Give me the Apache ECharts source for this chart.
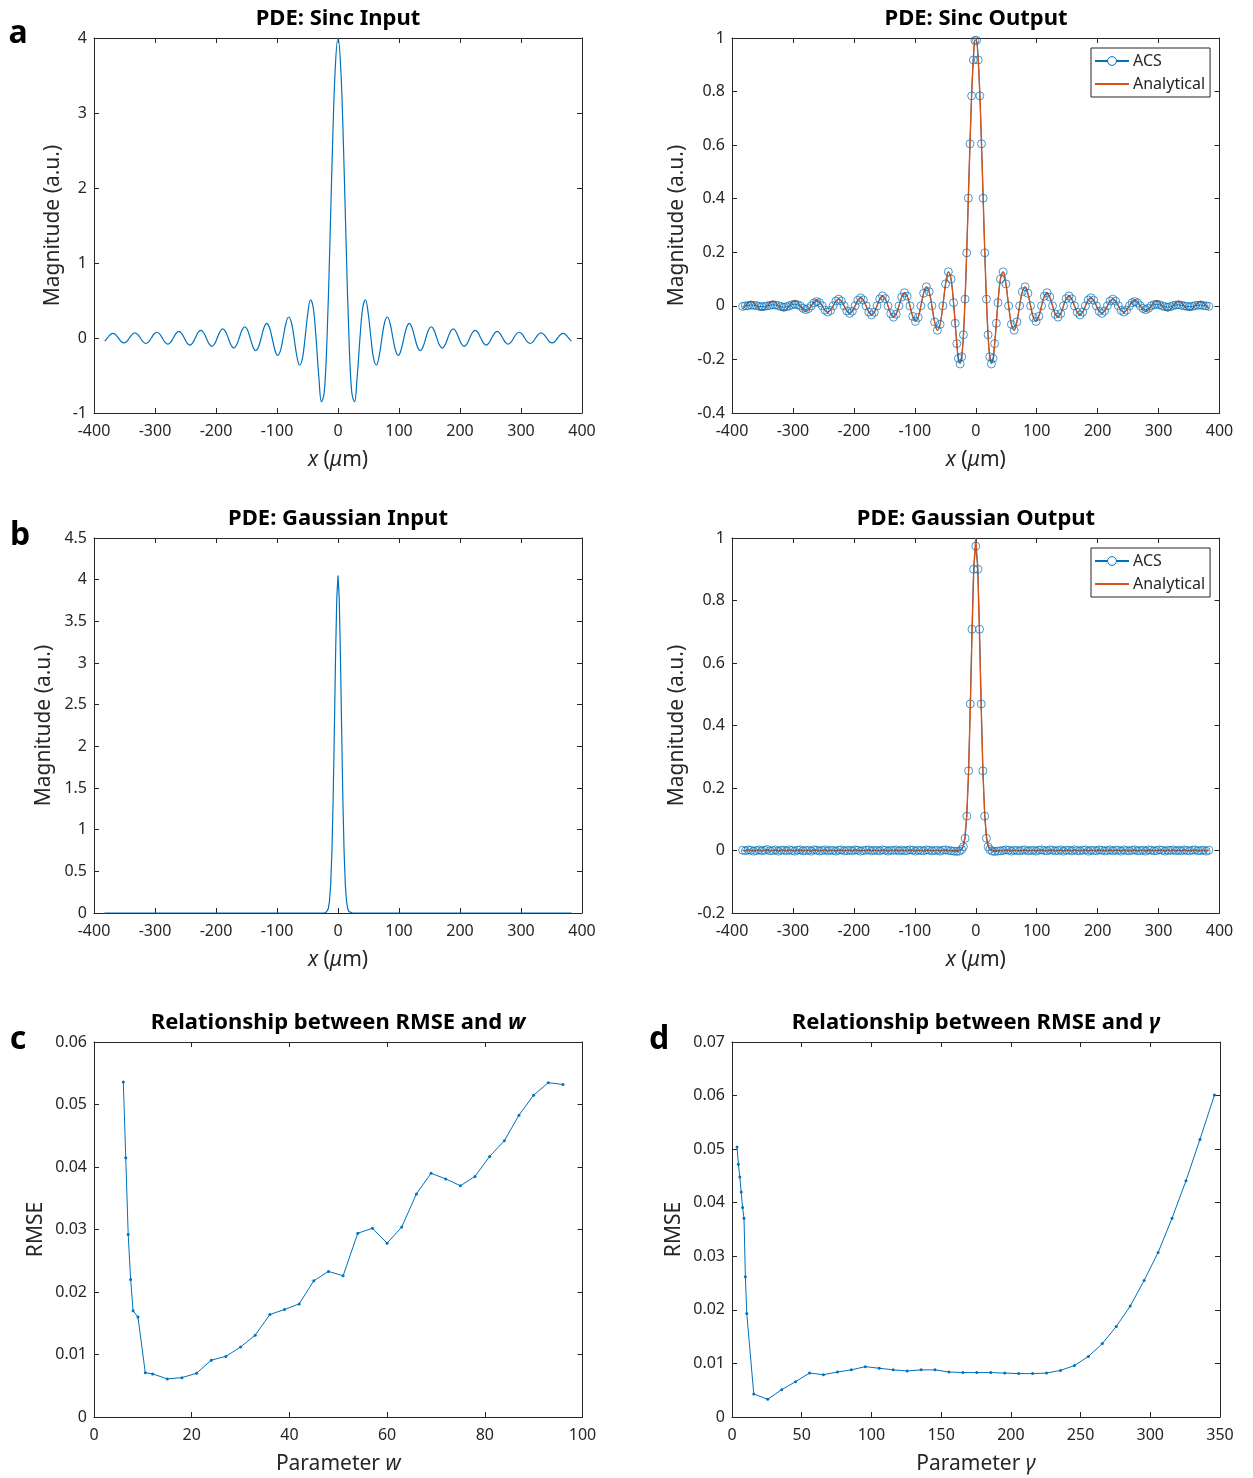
<!DOCTYPE html>
<html>
<head>
<meta charset="utf-8">
<script src="https://cdn.jsdelivr.net/npm/echarts@6/dist/echarts.min.js"></script>
<style>html,body{margin:0;padding:0;background:#fff}#chart{width:1253px;height:1478px}</style>
</head>
<body>
<div id="chart"></div>
<script>
// ---------------- DATA ----------------
// Panel a: sinc input / output, sampled every 4.5 um
const sincX = [-382.5,-378,-373.5,-369,-364.5,-360,-355.5,-351,-346.5,-342,-337.5,-333,-328.5,-324,-319.5,-315,-310.5,-306,-301.5,-297,-292.5,-288,-283.5,-279,-274.5,-270,-265.5,-261,-256.5,-252,-247.5,-243,-238.5,-234,-229.5,-225,-220.5,-216,-211.5,-207,-202.5,-198,-193.5,-189,-184.5,-180,-175.5,-171,-166.5,-162,-157.5,-153,-148.5,-144,-139.5,-135,-130.5,-126,-121.5,-117,-112.5,-108,-103.5,-99,-94.5,-90,-85.5,-81,-76.5,-72,-67.5,-63,-58.5,-54,-49.5,-45,-40.5,-36,-31.5,-27,-22.5,-18,-13.5,-9,-4.5,0,4.5,9,13.5,18,22.5,27,31.5,36,40.5,45,49.5,54,58.5,63,67.5,72,76.5,81,85.5,90,94.5,99,103.5,108,112.5,117,121.5,126,130.5,135,139.5,144,148.5,153,157.5,162,166.5,171,175.5,180,184.5,189,193.5,198,202.5,207,211.5,216,220.5,225,229.5,234,238.5,243,247.5,252,256.5,261,265.5,270,274.5,279,283.5,288,292.5,297,301.5,306,310.5,315,319.5,324,328.5,333,337.5,342,346.5,351,355.5,360,364.5,369,373.5,378,382.5];

const sincInput = [-0.042,0,0.043,0.062,0.044,0,-0.046,-0.065,-0.047,0,0.048,0.069,0.049,0,-0.051,-0.073,-0.052,0,0.054,0.077,0.055,0,-0.057,-0.082,-0.059,0,0.061,0.088,0.063,0,-0.065,-0.094,-0.068,0,0.071,0.102,0.073,0,-0.077,-0.111,-0.080,0,0.084,0.121,0.088,0,-0.092,-0.134,-0.097,0,0.103,0.150,0.109,0,-0.116,-0.170,-0.124,0,0.133,0.196,0.144,0,-0.157,-0.232,-0.171,0,0.19,0.28,0.21,0,-0.24,-0.36,-0.28,0,0.33,0.51,0.40,0,-0.51,-0.85,-0.72,0,1.20,2.55,3.60,
4.0,
3.60,2.55,1.20,0,-0.72,-0.85,-0.51,0,0.40,0.51,0.33,0,-0.28,-0.36,-0.24,0,0.21,0.28,0.19,0,-0.171,-0.232,-0.157,0,0.144,0.196,0.133,0,-0.124,-0.170,-0.116,0,0.109,0.150,0.103,0,-0.097,-0.134,-0.092,0,0.088,0.121,0.084,0,-0.080,-0.111,-0.077,0,0.073,0.102,0.071,0,-0.068,-0.094,-0.065,0,0.063,0.088,0.061,0,-0.059,-0.082,-0.057,0,0.055,0.077,0.054,0,-0.052,-0.073,-0.051,0,0.049,0.069,0.048,0,-0.047,-0.065,-0.046,0,0.044,0.062,0.043,0,-0.042];

const sincAnalytical = [-0.011,0,0.011,0.016,0.011,0,-0.011,-0.016,-0.012,0,0.012,0.017,0.012,0,-0.013,-0.018,-0.013,0,0.013,0.019,0.014,0,-0.014,-0.021,-0.015,0,0.015,0.022,0.016,0,-0.016,-0.024,-0.017,0,0.018,0.025,0.018,0,-0.019,-0.028,-0.020,0,0.021,0.030,0.022,0,-0.023,-0.034,-0.024,0,0.026,0.037,0.027,0,-0.029,-0.042,-0.031,0,0.033,0.049,0.036,0,-0.039,-0.058,-0.043,0,0.047,0.071,0.053,0,-0.060,-0.091,-0.069,0,0.082,0.127,0.100,0,-0.129,-0.212,-0.180,0,0.300,0.637,0.900,
1.0,
0.900,0.637,0.300,0,-0.180,-0.212,-0.129,0,0.100,0.127,0.082,0,-0.069,-0.091,-0.060,0,0.053,0.071,0.047,0,-0.043,-0.058,-0.039,0,0.036,0.049,0.033,0,-0.031,-0.042,-0.029,0,0.027,0.037,0.026,0,-0.024,-0.034,-0.023,0,0.022,0.030,0.021,0,-0.020,-0.028,-0.019,0,0.018,0.025,0.018,0,-0.017,-0.024,-0.016,0,0.016,0.022,0.015,0,-0.015,-0.021,-0.014,0,0.014,0.019,0.013,0,-0.013,-0.018,-0.013,0,0.012,0.017,0.012,0,-0.012,-0.016,-0.011,0,0.011,0.016,0.011,0,-0.011];

// ACS samples for the sinc output (denser near the main lobe)
const sincAcsX = [-382.5,-378,-373.5,-369,-364.5,-360,-355.5,-351,-346.5,-342,-337.5,-333,-328.5,-324,-319.5,-315,-310.5,-306,-301.5,-297,-292.5,-288,-283.5,-279,-274.5,-270,-265.5,-261,-256.5,-252,-247.5,-243,-238.5,-234,-229.5,-225,-220.5,-216,-211.5,-207,-202.5,-198,-193.5,-189,-184.5,-180,-175.5,-171,-166.5,-162,-157.5,-153,-148.5,-144,-139.5,-135,-130.5,-126,-121.5,-117,-112.5,-108,-103.5,-99,-94.5,-90,-85.5,-81,-76.5,-72,-67.5,-63,-58.5,-54,-49.5,-45,-40.5,
-36.45,-33.75,-31.05,-28.35,-25.65,-22.95,-20.25,-17.55,-14.85,-12.15,-9.45,-6.75,-4.05,-1.35,1.35,4.05,6.75,9.45,12.15,14.85,17.55,20.25,22.95,25.65,28.35,31.05,33.75,36.45,
40.5,45,49.5,54,58.5,63,67.5,72,76.5,81,85.5,90,94.5,99,103.5,108,112.5,117,121.5,126,130.5,135,139.5,144,148.5,153,157.5,162,166.5,171,175.5,180,184.5,189,193.5,198,202.5,207,211.5,216,220.5,225,229.5,234,238.5,243,247.5,252,256.5,261,265.5,270,274.5,279,283.5,288,292.5,297,301.5,306,310.5,315,319.5,324,328.5,333,337.5,342,346.5,351,355.5,360,364.5,369,373.5,378,382.5];

const sincAcsY = [-0.002,0,0.001,0.003,0.002,0.001,-0.002,-0.003,-0.002,0,0.002,0.004,0.003,0.001,-0.003,-0.005,-0.003,0,0.004,0.006,0.004,0,-0.009,-0.014,-0.010,0,0.011,0.016,0.012,0,-0.016,-0.023,-0.017,0,0.018,0.025,0.018,0,-0.019,-0.028,-0.020,0,0.021,0.030,0.022,0,-0.023,-0.034,-0.024,0,0.026,0.037,0.027,0,-0.029,-0.042,-0.031,0,0.033,0.049,0.036,0,-0.039,-0.058,-0.043,0,0.047,0.071,0.053,0,-0.060,-0.091,-0.069,0,0.082,0.127,0.100,
0.012,-0.065,-0.141,-0.196,-0.217,-0.190,-0.108,0.025,0.198,0.402,0.605,0.784,0.918,0.991,0.991,0.918,0.784,0.605,0.402,0.198,0.025,-0.108,-0.190,-0.217,-0.196,-0.141,-0.065,0.012,
0.100,0.127,0.082,0,-0.069,-0.091,-0.060,0,0.053,0.071,0.047,0,-0.043,-0.058,-0.039,0,0.036,0.049,0.033,0,-0.031,-0.042,-0.029,0,0.027,0.037,0.026,0,-0.024,-0.034,-0.023,0,0.022,0.030,0.021,0,-0.020,-0.028,-0.019,0,0.018,0.025,0.018,0,-0.017,-0.023,-0.016,0,0.012,0.016,0.011,0,-0.010,-0.014,-0.009,0,0.004,0.006,0.004,0,-0.003,-0.005,-0.003,0.001,0.003,0.004,0.002,0,-0.002,-0.003,-0.002,0.001,0.002,0.003,0.001,0,-0.002];

// Panel b: Gaussian input / output
const gaussInX = [-383,-24,-20,-18,-16,-14,-12,-10,-8,-6,-4,-2,0,2,4,6,8,10,12,14,16,18,20,24,383];
const gaussInY = [0,0,0.004,0.016,0.05,0.14,0.34,0.73,1.35,2.18,3.08,3.78,4.05,3.78,3.08,2.18,1.35,0.73,0.34,0.14,0.05,0.016,0.004,0,0];

const gaussAnX = [-382.5,-30,-27,-24,-21,-18,-15,-12,-9,-6,-3,0,3,6,9,12,15,18,21,24,27,30,382.5];
const gaussAnY = [0,0,0.001,0.003,0.013,0.040,0.108,0.240,0.448,0.700,0.915,1,0.915,0.700,0.448,0.240,0.108,0.040,0.013,0.003,0.001,0,0];

const gaussAcsX = [-382.5,-378,-373.5,-369,-364.5,-360,-355.5,-351,-346.5,-342,-337.5,-333,-328.5,-324,-319.5,-315,-310.5,-306,-301.5,-297,-292.5,-288,-283.5,-279,-274.5,-270,-265.5,-261,-256.5,-252,-247.5,-243,-238.5,-234,-229.5,-225,-220.5,-216,-211.5,-207,-202.5,-198,-193.5,-189,-184.5,-180,-175.5,-171,-166.5,-162,-157.5,-153,-148.5,-144,-139.5,-135,-130.5,-126,-121.5,-117,-112.5,-108,-103.5,-99,-94.5,-90,-85.5,-81,-76.5,-72,-67.5,-63,-58.5,-54,-49.5,-45,-40.5,-36,-31.5,-27,
-23.1,-20.3,-17.5,-14.6,-11.7,-9,-6.2,-3.5,0,3.5,6.2,9,11.7,14.6,17.5,20.3,23.1,
27,31.5,36,40.5,45,49.5,54,58.5,63,67.5,72,76.5,81,85.5,90,94.5,99,103.5,108,112.5,117,121.5,126,130.5,135,139.5,144,148.5,153,157.5,162,166.5,171,175.5,180,184.5,189,193.5,198,202.5,207,211.5,216,220.5,225,229.5,234,238.5,243,247.5,252,256.5,261,265.5,270,274.5,279,283.5,288,292.5,297,301.5,306,310.5,315,319.5,324,328.5,333,337.5,342,346.5,351,355.5,360,364.5,369,373.5,378,382.5];

const gaussAcsY = [0.001,-0.001,0.002,0.001,-0.002,0,0.002,-0.001,0.001,0.003,
-0.001,0,0.002,-0.002,0.001,0.001,-0.001,0.002,0,-0.002,
0.001,0.002,-0.001,0,0.001,-0.002,0.002,0.001,-0.001,0,
0.002,-0.001,0.001,0,-0.002,0.001,0.002,-0.001,0,0.001,
-0.001,0.002,0.001,-0.002,0,0.001,0.002,-0.001,0.001,0,
-0.001,0.002,0.001,-0.002,0.001,0,0.002,-0.001,0.001,-0.001,
0,0.002,0.001,-0.002,0.001,0,-0.001,0.002,0.001,-0.001,
0,0.001,-0.002,0.001,0.002,0,-0.001,-0.002,-0.003,-0.002,
0.003,0.012,0.039,0.110,0.255,0.469,0.708,0.900,0.974,0.900,0.708,0.469,0.255,0.110,0.039,0.012,0.003,
-0.002,-0.003,-0.002,-0.001,0,0.002,0.001,-0.002,0.001,0,
-0.001,0.001,0.002,-0.001,0,0.001,-0.002,0.001,0.002,0,
-0.001,0.002,0.001,-0.001,0,0.002,-0.002,0.001,0.001,-0.001,
0.002,0,-0.001,0.001,0.002,-0.002,0.001,0,-0.001,0.002,
0.001,-0.001,0,0.002,-0.001,0.001,0.001,-0.002,0.002,0,
-0.001,0.001,0.002,-0.001,0,0.001,-0.002,0.002,0.001,-0.001,
0,0.002,0.001,-0.002,0.001,0,0.002,-0.001,0.001,-0.001,
0.002,0,-0.001,0.001,0.002,-0.001,0,0.001,-0.002,0.001];

// Panel c: RMSE vs w
const wValues = [6,6.5,7,7.5,8,9,10.5,12,15,18,21,24,27,30,33,36,39,42,45,48,51,54,57,60,63,66,69,72,75,78,81,84,87,90,93,96];
const rmseW = [0.0536,0.0415,0.0292,0.0220,0.0170,0.0160,0.0071,0.0069,0.0061,0.0063,0.0070,0.0091,0.0097,0.0112,0.0131,0.0164,0.0172,0.0181,0.0218,0.0233,0.0226,0.0294,0.0302,0.0278,0.0304,0.0357,0.0390,0.0381,0.0370,0.0385,0.0417,0.0442,0.0483,0.0515,0.0535,0.0532];

// Panel d: RMSE vs gamma
const gammaValues = [3.6,4.6,5.6,6.6,7.6,8.6,9.6,10.6,15.6,25.6,35.6,45.6,55.6,65.6,75.6,85.6,95.6,105.6,115.6,125.6,135.6,145.6,155.6,165.6,175.6,185.6,195.6,205.6,215.6,225.6,235.6,245.6,255.6,265.6,275.6,285.6,295.6,305.6,315.6,325.6,335.6,346];
const rmseGamma = [0.0504,0.0472,0.0448,0.0420,0.0391,0.0371,0.0262,0.0193,0.0043,0.0033,0.0051,0.0066,0.0082,0.0079,0.0084,0.0088,0.0094,0.0091,0.0088,0.0086,0.0088,0.0088,0.0084,0.0083,0.0083,0.0083,0.0082,0.0081,0.0081,0.0082,0.0087,0.0096,0.0113,0.0137,0.0169,0.0207,0.0255,0.0307,0.0371,0.0441,0.0518,0.0601];

// Tick ranges
const xTicksPDE = {min:-400, max:400, interval:100};
const yTicksSincIn = {min:-1, max:4, interval:1};
const yTicksSincOut = {min:-0.4, max:1, interval:0.2};
const yTicksGaussIn = {min:0, max:4.5, interval:0.5};
const yTicksGaussOut = {min:-0.2, max:1, interval:0.2};
const xTicksW = {min:0, max:100, interval:20};
const yTicksW = {min:0, max:0.06, interval:0.01};
const xTicksG = {min:0, max:350, interval:50};
const yTicksG = {min:0, max:0.07, interval:0.01};

// ---------------- CHART ----------------
const BLUE = '#0072BD', ORANGE = '#D95319', AX = '#262626';
const FONT = '"Noto Sans", "Open Sans", sans-serif';
const fmt = v => String(+(+v).toFixed(4));
function pairs(xs, ys) { const n = Math.min(xs.length, ys.length); const o = []; for (let i = 0; i < n; i++) o.push([xs[i], ys[i]]); return o; }

const NAME_SIZE = 21;
const richName = { i: { fontStyle: 'italic', fontSize: NAME_SIZE, fontFamily: FONT, color: AX } };
const xNameUm = '{i|x} ({i|\u03bc}m)';

const panels = [
  { grid: {left:94, top:38, width:488, height:375}, xt: xTicksPDE, yt: yTicksSincIn, xName: xNameUm, yName: 'Magnitude (a.u.)', yGap: 30 },
  { grid: {left:732, top:38, width:487.5, height:375}, xt: xTicksPDE, yt: yTicksSincOut, xName: xNameUm, yName: 'Magnitude (a.u.)', yGap: 44 },
  { grid: {left:94, top:538, width:488, height:375}, xt: xTicksPDE, yt: yTicksGaussIn, xName: xNameUm, yName: 'Magnitude (a.u.)', yGap: 39 },
  { grid: {left:732, top:538, width:487.5, height:375}, xt: xTicksPDE, yt: yTicksGaussOut, xName: xNameUm, yName: 'Magnitude (a.u.)', yGap: 44 },
  { grid: {left:94, top:1042, width:488.5, height:375}, xt: xTicksW, yt: yTicksW, xName: 'Parameter {i|w}', yName: 'RMSE', yGap: 47 },
  { grid: {left:732, top:1042, width:488, height:375}, xt: xTicksG, yt: yTicksG, xName: 'Parameter {i|\u03b3}', yName: 'RMSE', yGap: 47 }
];

const grids = [], xAxes = [], yAxes = [];
panels.forEach((p, i) => {
  grids.push(Object.assign({ containLabel: false, outerBoundsMode: 'none', show: false }, p.grid));
  const common = {
    type: 'value', gridIndex: i,
    axisLine: { show: true, onZero: false, lineStyle: { color: AX, width: 1 } },
    axisTick: { show: true, inside: true, length: 5, lineStyle: { color: AX, width: 1 } },
    splitLine: { show: false },
    axisLabel: { show: true, color: AX, fontSize: 16, fontFamily: FONT, formatter: fmt, showMinLabel: true, showMaxLabel: true, hideOverlap: false },
    silent: true
  };
  xAxes.push(Object.assign({}, common, p.xt, {
    position: 'bottom',
    axisLabel: Object.assign({}, common.axisLabel, { margin: 10 }),
    name: p.xName, nameLocation: 'middle', nameGap: 37,
    nameTextStyle: { fontSize: NAME_SIZE, fontFamily: FONT, color: AX, rich: richName }
  }));
  xAxes.push(Object.assign({}, common, p.xt, { position: 'top', axisLabel: { show: false } }));
  yAxes.push(Object.assign({}, common, p.yt, {
    position: 'left',
    axisLabel: Object.assign({}, common.axisLabel, { margin: 7 }),
    name: p.yName, nameLocation: 'middle', nameGap: p.yGap,
    nameTextStyle: { fontSize: NAME_SIZE, fontFamily: FONT, color: AX }
  }));
  yAxes.push(Object.assign({}, common, p.yt, { position: 'right', axisLabel: { show: false } }));
});

const lineBase = { type: 'line', silent: true, emphasis: { disabled: true }, animation: false, clip: true };
const acsStyle = {
  symbol: 'circle', symbolSize: 8, showSymbol: true,
  itemStyle: { color: 'rgba(255,255,255,0)', borderColor: 'rgba(0,114,189,0.72)', borderWidth: 1 },
  lineStyle: { color: BLUE, width: 1 }
};
const anStyle = { showSymbol: false, symbol: 'none', lineStyle: { color: ORANGE, width: 1.4 }, itemStyle: { color: ORANGE } };

const series = [
  Object.assign({}, lineBase, { name: 'Sinc input', xAxisIndex: 0, yAxisIndex: 0, data: pairs(sincX, sincInput), smooth: 0.4, showSymbol: false, symbol: 'none', lineStyle: { color: BLUE, width: 1.2 } }),
  Object.assign({}, lineBase, acsStyle, { name: 'ACS', xAxisIndex: 2, yAxisIndex: 2, data: pairs(sincAcsX, sincAcsY), smooth: 0.3 }),
  Object.assign({}, lineBase, anStyle, { name: 'Analytical', xAxisIndex: 2, yAxisIndex: 2, data: pairs(sincX, sincAnalytical), smooth: 0.4 }),
  Object.assign({}, lineBase, { name: 'Gaussian input', xAxisIndex: 4, yAxisIndex: 4, data: pairs(gaussInX, gaussInY), showSymbol: false, symbol: 'none', lineStyle: { color: BLUE, width: 1.2 } }),
  Object.assign({}, lineBase, acsStyle, { name: 'ACS', xAxisIndex: 6, yAxisIndex: 6, data: pairs(gaussAcsX, gaussAcsY) }),
  Object.assign({}, lineBase, anStyle, { name: 'Analytical', xAxisIndex: 6, yAxisIndex: 6, data: pairs(gaussAnX, gaussAnY) }),
  Object.assign({}, lineBase, { name: 'RMSE w', xAxisIndex: 8, yAxisIndex: 8, data: pairs(wValues, rmseW), symbol: 'circle', symbolSize: 3, showSymbol: true, itemStyle: { color: BLUE }, lineStyle: { color: BLUE, width: 1 } }),
  Object.assign({}, lineBase, { name: 'RMSE gamma', xAxisIndex: 10, yAxisIndex: 10, data: pairs(gammaValues, rmseGamma), symbol: 'circle', symbolSize: 3, showSymbol: true, itemStyle: { color: BLUE }, lineStyle: { color: BLUE, width: 1 } })
];

function legendAt(top) {
  return {
    data: [
      { name: 'ACS', itemStyle: { color: '#ffffff', borderColor: BLUE, borderWidth: 1 } },
      { name: 'Analytical', itemStyle: { color: 'rgba(0,0,0,0)', borderColor: 'rgba(0,0,0,0)', borderWidth: 0, opacity: 0 } }
    ],
    orient: 'vertical', left: 1091, top: top,
    backgroundColor: '#fff', borderColor: AX, borderWidth: 1, borderRadius: 0,
    padding: [5, 5, 5, 3], itemGap: 7, itemWidth: 34, itemHeight: 11,
    selectedMode: false,
    textStyle: { fontSize: 16, fontFamily: FONT, color: AX, padding: [0, 0, 0, -1] }
  };
}

function txt(x, y, text, size, weight, rich) {
  const st = { text: text, fill: '#000', fontSize: size, fontWeight: weight, fontFamily: FONT, align: 'center', verticalAlign: 'middle' };
  if (rich) st.rich = rich;
  return { type: 'text', x: x, y: y, silent: true, style: st };
}
const titleRich = { i: { fontStyle: 'italic', fontWeight: 'bold', fontSize: 22, fontFamily: FONT, fill: '#000', color: '#000' } };

const graphics = [
  txt(338, 19, 'PDE: Sinc Input', 22, 'bold'),
  txt(976, 19, 'PDE: Sinc Output', 22, 'bold'),
  txt(338, 519, 'PDE: Gaussian Input', 22, 'bold'),
  txt(976, 519, 'PDE: Gaussian Output', 22, 'bold'),
  txt(338, 1023, 'Relationship between RMSE and {i|w}', 22, 'bold', titleRich),
  txt(976, 1023, 'Relationship between RMSE and {i|\u03b3}', 22, 'bold', titleRich),
  txt(18, 34, 'a', 32, 'bold'),
  txt(20, 536, 'b', 32, 'bold'),
  txt(18, 1040, 'c', 32, 'bold'),
  txt(659, 1040, 'd', 32, 'bold')
];

const chart = echarts.init(document.getElementById('chart'), null, { renderer: 'canvas' });
chart.setOption({
  animation: false,
  backgroundColor: '#fff',
  textStyle: { fontFamily: FONT },
  grid: grids,
  xAxis: xAxes,
  yAxis: yAxes,
  legend: [legendAt(48), legendAt(548)],
  graphic: graphics,
  series: series
});
</script>
</body>
</html>
